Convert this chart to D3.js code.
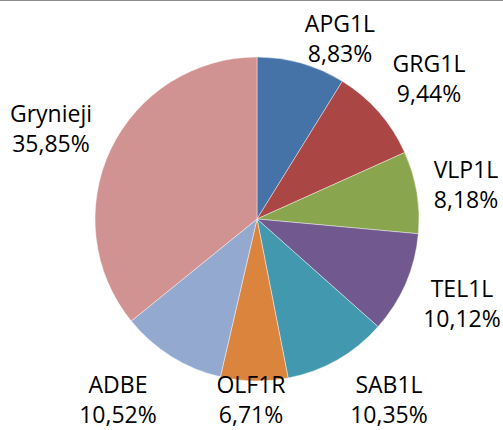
<!DOCTYPE html>
<html>
<head>
<meta charset="utf-8">
<script src="https://cdn.jsdelivr.net/npm/d3@7"></script>
<style>
html,body{margin:0;padding:0;background:#fff;}
svg{display:block;}
</style>
</head>
<body>
<svg id="chart" width="503" height="430"></svg>
<script>
const categories = ["APG1L","GRG1L","VLP1L","TEL1L","SAB1L","OLF1R","ADBE","Grynieji"];
const values = [8.83, 9.44, 8.18, 10.12, 10.35, 6.71, 10.52, 35.85];
const labels = ["8,83%","9,44%","8,18%","10,12%","10,35%","6,71%","10,52%","35,85%"];
const colors = ["#4572A7","#AA4643","#89A54E","#71588F","#4198AF","#DB843D","#93A9CF","#D19392"];
// label anchor positions (center x, first-line baseline y)
const labelPos = [[340,32],[429,72],[466,178],[462,297],[389,393],[251,393],[118,393],[51,122]];

const svg = d3.select("#chart");
svg.append("line").attr("x1",0).attr("x2",503).attr("y1",0.5).attr("y2",0.5)
  .attr("stroke","#8c8c8c").attr("stroke-width",1);

const cx = 257, cy = 219, r = 162;
const pie = d3.pie().sort(null).value(d => d)(values);
const arc = d3.arc().innerRadius(0).outerRadius(r);
const g = svg.append("g").attr("transform",`translate(${cx},${cy})`);
g.selectAll("path").data(pie).join("path")
  .attr("d", arc)
  .attr("fill", (d,i) => colors[i])
  .attr("stroke","#ffffff").attr("stroke-width",0.6).attr("stroke-opacity",0.7);

const lg = svg.append("g").attr("font-family","'Open Sans', sans-serif").attr("font-size","23px").attr("fill","#000");
categories.forEach((c,i) => {
  const [x,y] = labelPos[i];
  lg.append("text").attr("x",x).attr("y",y).attr("text-anchor","middle").text(c);
  lg.append("text").attr("x",x).attr("y",y+30).attr("text-anchor","middle").text(labels[i]);
});
</script>
</body>
</html>
